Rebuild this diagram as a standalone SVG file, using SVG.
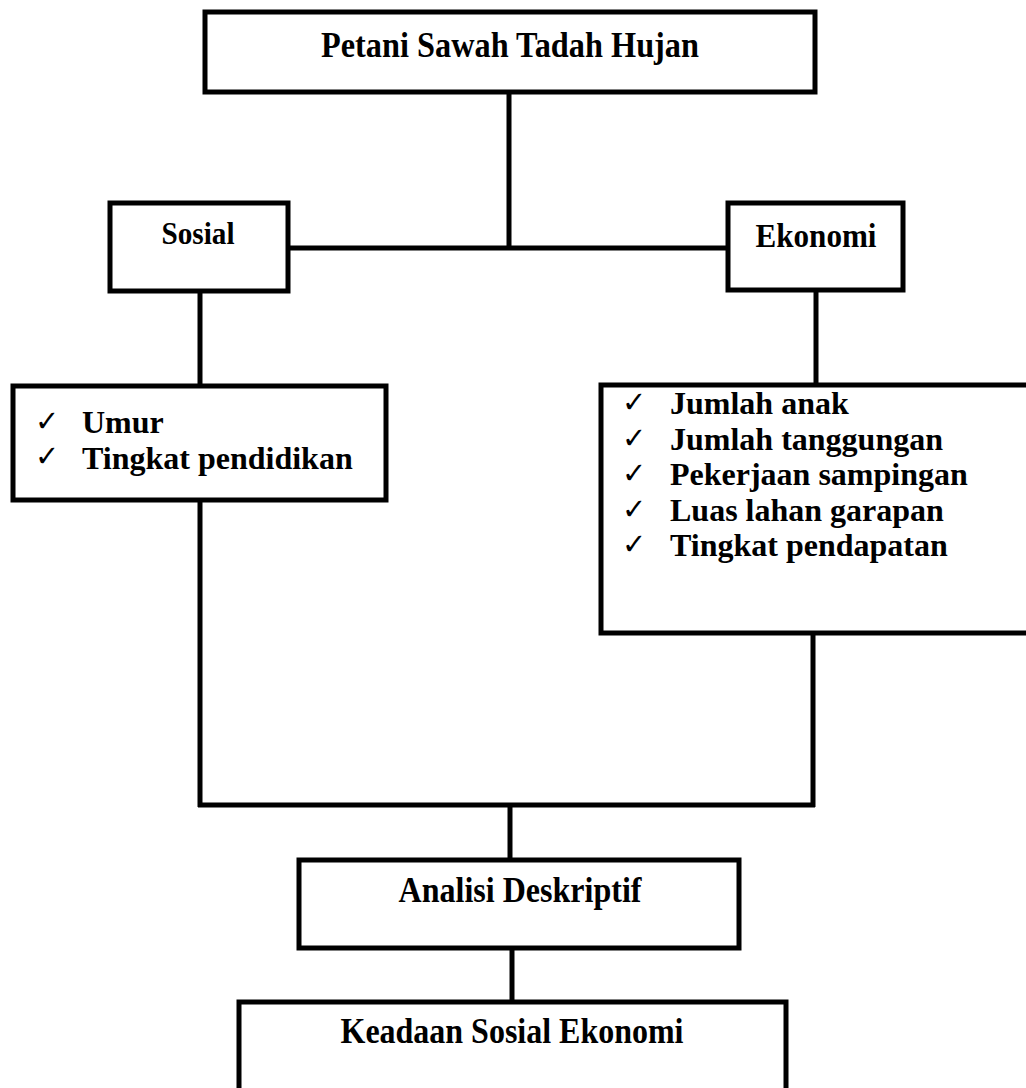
<svg xmlns="http://www.w3.org/2000/svg" width="1026" height="1088" viewBox="0 0 1026 1088">
<style>
.box{fill:#fff;stroke:#000;stroke-width:5}
.ln{fill:none;stroke:#000;stroke-width:5}
.t{font-family:"Liberation Serif","Times New Roman",serif;font-weight:bold;font-size:35px;fill:#000}
.l{font-size:32px}
.c{text-anchor:middle}
.ck{font-family:"DejaVu Sans",sans-serif;font-size:29px;fill:#000}
</style>
<rect width="1026" height="1088" fill="#fff"/>
<g id="connectors">
<line class="ln" x1="509" y1="92" x2="509" y2="250"/>
<line class="ln" x1="288" y1="248" x2="728" y2="248"/>
<line class="ln" x1="200" y1="291" x2="200" y2="386"/>
<line class="ln" x1="816" y1="290" x2="816" y2="385"/>
<line class="ln" x1="200" y1="500" x2="200" y2="807"/>
<line class="ln" x1="813" y1="633" x2="813" y2="807"/>
<line class="ln" x1="198" y1="805" x2="815" y2="805"/>
<line class="ln" x1="510" y1="805" x2="510" y2="860"/>
<line class="ln" x1="512" y1="948" x2="512" y2="1002"/>
</g>
<g id="n-petani">
<rect class="box" x="205" y="12" width="610" height="80"/>
<text class="t c" x="510" y="57" textLength="378" lengthAdjust="spacingAndGlyphs">Petani Sawah Tadah Hujan</text>
</g>
<g id="n-sosial">
<rect class="box" x="110" y="203" width="178" height="88"/>
<text class="t c" x="198" y="244" style="font-size:32px" textLength="73" lengthAdjust="spacingAndGlyphs">Sosial</text>
</g>
<g id="n-ekonomi">
<rect class="box" x="728" y="203" width="175" height="87"/>
<text class="t c" x="816" y="247" style="font-size:34px" textLength="121" lengthAdjust="spacingAndGlyphs">Ekonomi</text>
</g>
<g id="n-sosial-list">
<rect class="box" x="13" y="386" width="373" height="114"/>
<text class="ck" x="35" y="431">✓</text>
<text class="t l" x="82" y="433">Umur</text>
<text class="ck" x="35" y="466">✓</text>
<text class="t l" x="82" y="468.5">Tingkat pendidikan</text>
</g>
<g id="n-ekonomi-list">
<rect class="box" x="601" y="385" width="440" height="248"/>
<text class="ck" x="622" y="412">✓</text>
<text class="t l" x="670" y="414">Jumlah anak</text>
<text class="ck" x="622" y="447.5">✓</text>
<text class="t l" x="670" y="449.5">Jumlah tanggungan</text>
<text class="ck" x="622" y="483">✓</text>
<text class="t l" x="670" y="485">Pekerjaan sampingan</text>
<text class="ck" x="622" y="518.5">✓</text>
<text class="t l" x="670" y="520.5">Luas lahan garapan</text>
<text class="ck" x="622" y="554">✓</text>
<text class="t l" x="670" y="556">Tingkat pendapatan</text>
</g>
<g id="n-analisi">
<rect class="box" x="299" y="860" width="440" height="88"/>
<text class="t c" x="520" y="902" textLength="243" lengthAdjust="spacingAndGlyphs">Analisi Deskriptif</text>
</g>
<g id="n-keadaan">
<rect class="box" x="239" y="1002" width="547" height="100"/>
<text class="t c" x="512" y="1043" textLength="343" lengthAdjust="spacingAndGlyphs">Keadaan Sosial Ekonomi</text>
</g>
</svg>
